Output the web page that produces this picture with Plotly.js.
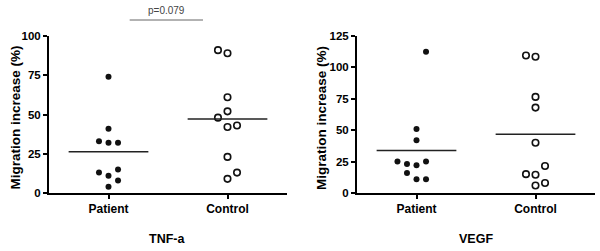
<!DOCTYPE html>
<html>
<head>
<meta charset="utf-8">
<script src="https://cdn.plot.ly/plotly-3.0.1.min.js"></script>
<style>
  html, body { margin: 0; padding: 0; background: #fff; }
  #chart { width: 600px; height: 251px; }
</style>
</head>
<body>
<div id="chart"></div>
<script>
// ---- Data ----
var categories = ["Patient", "Control"];

// TNF-a panel
var tnfPatient    = [74, 41, 33, 32, 32, 13, 11, 15, 8, 4];
var tnfPatientCol = [0, 0, -1, 0, 1, -1, 0, 1, 1, 0];
var tnfControl    = [91, 89, 61, 52, 48, 42, 43, 23, 9, 13];
var tnfControlCol = [-1, 0, 0, 0, -1, 0, 1, 0, 0, 1];

// VEGF panel
var vegfPatient    = [112.5, 51, 42, 25, 23, 22, 25, 16, 11, 11];
var vegfPatientCol = [1, 0, 0, -2, -1, 0, 1, -1, 0, 1];
var vegfControl    = [109.5, 108.5, 76.5, 68, 40, 15, 14.5, 21.5, 6, 8];
var vegfControlCol = [-1, 0, 0, 0, 0, -1, 0, 1, 0, 1];

var tnfTicks  = [0, 25, 50, 75, 100];
var vegfTicks = [0, 25, 50, 75, 100, 125];
var panelTitles = ["TNF-a", "VEGF"];
var yTitle = "Migration increase (%)";
var pText = "p=0.079";

// ---- Helpers ----
var COL_STEP = 0.08;   // horizontal step between stacked dots (axis units)
var MEAN_HALF = 0.335; // half width of mean line (axis units)
function mean(a) { return a.reduce(function (s, v) { return s + v; }, 0) / a.length; }
function xs(catIdx, cols) { return cols.map(function (c) { return catIdx + c * COL_STEP; }); }

var FONT = "Liberation Sans, Arial, sans-serif";
var filled = { color: "#111", size: 6, line: { width: 0 } };
var open = { color: "#fff", size: 6.5, line: { color: "#111", width: 1.6 } };

function panel(pat, patCol, con, conCol, xa, ya) {
  var tr = [];
  tr.push({ type: "scatter", mode: "markers", x: xs(0, patCol), y: pat, xaxis: xa, yaxis: ya, marker: filled, hoverinfo: "y" });
  tr.push({ type: "scatter", mode: "markers", x: xs(1, conCol), y: con, xaxis: xa, yaxis: ya, marker: open, hoverinfo: "y" });
  [pat, con].forEach(function (arr, i) {
    var m = mean(arr);
    tr.push({ type: "scatter", mode: "lines", x: [i - MEAN_HALF, i + MEAN_HALF], y: [m, m],
      xaxis: xa, yaxis: ya, line: { color: "#222", width: 1.6 }, hoverinfo: "skip" });
  });
  return tr;
}

var data = [].concat(
  panel(tnfPatient, tnfPatientCol, tnfControl, tnfControlCol, "x", "y"),
  panel(vegfPatient, vegfPatientCol, vegfControl, vegfControlCol, "x2", "y2")
);

var yDom = [1 - 193 / 251, 1 - 36 / 251];
function xAxis(dom, anchor) {
  return {
    domain: dom, anchor: anchor, range: [-0.5, 1.5], fixedrange: true,
    tickvals: [0, 1], ticktext: categories, showgrid: false, zeroline: false,
    showline: true, linecolor: "#000", linewidth: 2,
    ticks: "outside", ticklen: 4, tickwidth: 2, tickcolor: "#000",
    tickfont: { family: FONT, size: 12, color: "#000", weight: "bold" }
  };
}
function yAxis(ticks, anchor) {
  return {
    domain: yDom, anchor: anchor, range: [0, ticks[ticks.length - 1]], fixedrange: true,
    tickvals: ticks, showgrid: false, zeroline: false,
    showline: true, linecolor: "#000", linewidth: 2,
    ticks: "outside", ticklen: 4, tickwidth: 2, tickcolor: "#000",
    tickfont: { family: FONT, size: 11.5, color: "#000", weight: "bold" }
  };
}

var layout = {
  width: 600, height: 251, autosize: false,
  margin: { l: 0, r: 0, t: 0, b: 0 },
  paper_bgcolor: "#fff", plot_bgcolor: "#fff",
  showlegend: false,
  xaxis: xAxis([49 / 600, 287 / 600], "y"),
  yaxis: yAxis(tnfTicks, "x"),
  xaxis2: xAxis([357 / 600, 595 / 600], "y2"),
  yaxis2: yAxis(vegfTicks, "x2"),
  shapes: [
    { type: "line", xref: "x", yref: "paper", x0: 0.178, x1: 0.794,
      y0: 1 - 20 / 251, y1: 1 - 20 / 251, line: { color: "#666", width: 1 } }
  ],
  annotations: [
    { text: pText, xref: "x", yref: "paper", x: 0.486, y: 1 - 11 / 251, showarrow: false,
      font: { family: FONT, size: 10, color: "#444" }, xanchor: "center", yanchor: "middle" },
    { text: yTitle, xref: "paper", yref: "paper", x: 14.5 / 600, y: 1 - 118 / 251, textangle: -90,
      showarrow: false, xanchor: "center", yanchor: "middle",
      font: { family: FONT, size: 13.5, color: "#000", weight: "bold" } },
    { text: yTitle, xref: "paper", yref: "paper", x: 321 / 600, y: 1 - 118 / 251, textangle: -90,
      showarrow: false, xanchor: "center", yanchor: "middle",
      font: { family: FONT, size: 13.5, color: "#000", weight: "bold" } },
    { text: panelTitles[0], xref: "paper", yref: "paper", x: 167 / 600, y: 1 - 239 / 251,
      showarrow: false, xanchor: "center", yanchor: "middle",
      font: { family: FONT, size: 12.5, color: "#000", weight: "bold" } },
    { text: panelTitles[1], xref: "paper", yref: "paper", x: 476 / 600, y: 1 - 239 / 251,
      showarrow: false, xanchor: "center", yanchor: "middle",
      font: { family: FONT, size: 12.5, color: "#000", weight: "bold" } }
  ]
};

Plotly.newPlot("chart", data, layout, { staticPlot: true, displayModeBar: false });
</script>
</body>
</html>
